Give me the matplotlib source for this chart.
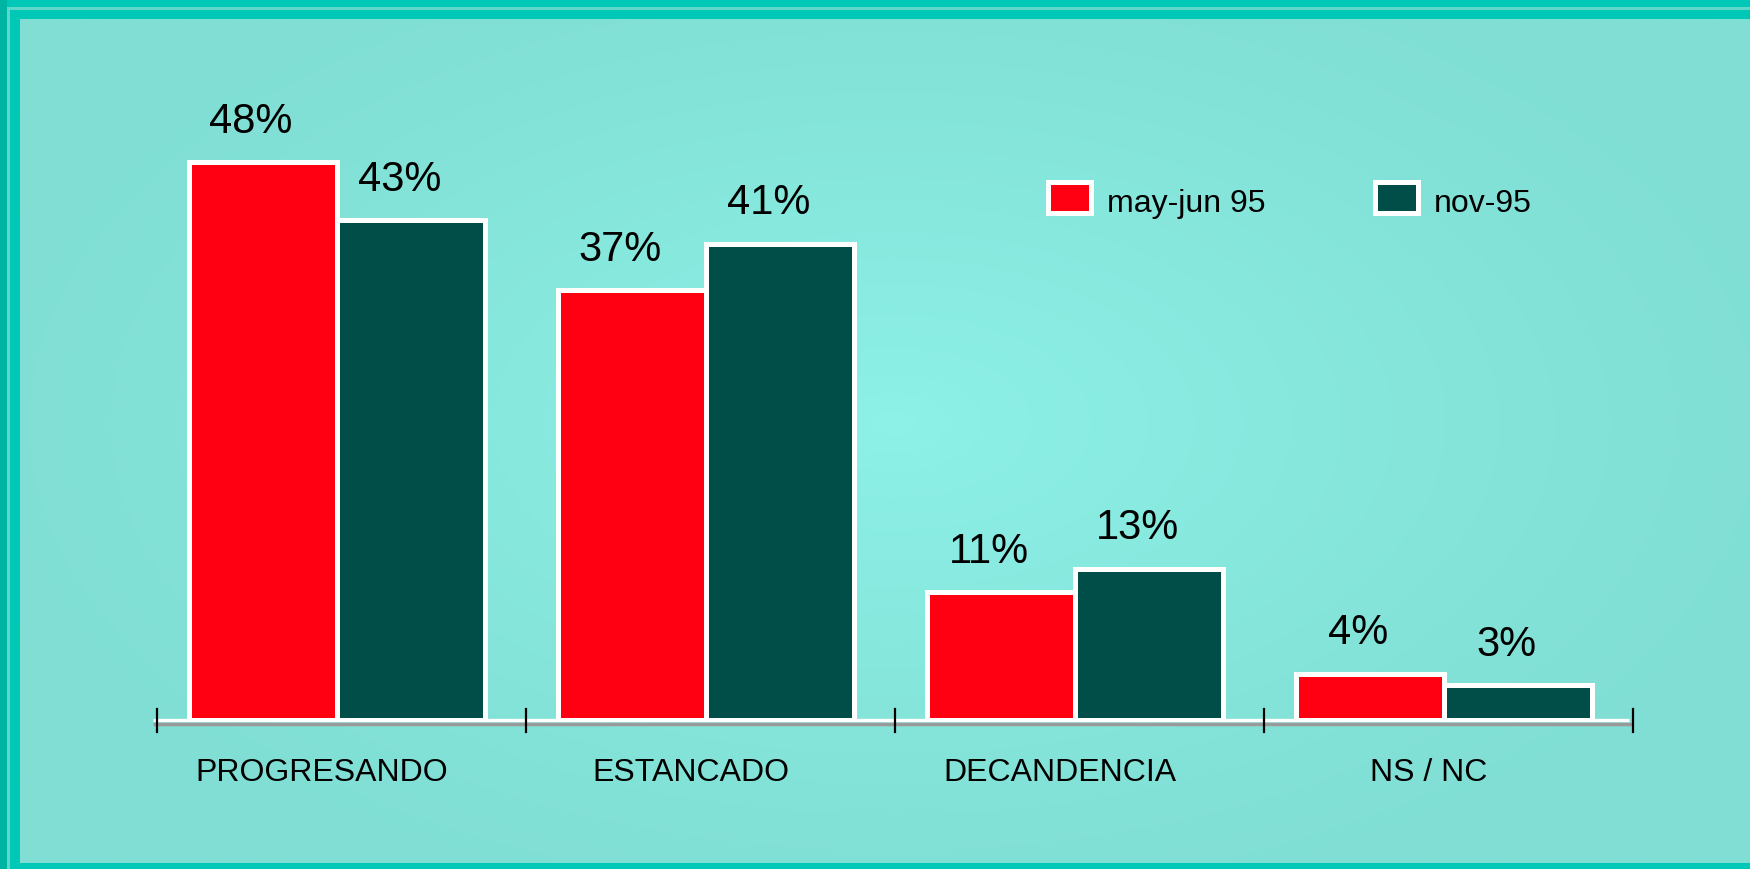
import numpy as np
import matplotlib
matplotlib.use("Agg")
import matplotlib.pyplot as plt
import matplotlib.transforms as mtransforms
from matplotlib.patches import Rectangle

plt.rcParams['font.family'] = ['Liberation Sans', 'DejaVu Sans']

# data
categories = ['PROGRESANDO', 'ESTANCADO', 'DECANDENCIA', 'NS / NC']
series_names = ['may-jun 95', 'nov-95']
may_jun_95 = [48, 37, 11, 4]
nov_95 = [43, 41, 13, 3]

RED = '#FF0012'
GREEN = '#014E49'
W, H = 1750, 870


def fx(px):
    return px / W


def fy(py):
    return 1 - py / H


fig = plt.figure(figsize=(17.5, 8.7), dpi=100)
fig.patch.set_facecolor('#00C8B6')

# frame stripes
fig.add_artist(Rectangle((0, 0), fx(7), 1, transform=fig.transFigure,
                         facecolor='#00B4A4', edgecolor='none'))
fig.add_artist(Rectangle((fx(7), 0), fx(2.5), fy(8), transform=fig.transFigure,
                         facecolor='#5ED8C8', edgecolor='none'))
fig.add_artist(Rectangle((fx(7), fy(10.5)), 1, 2.5 / H, transform=fig.transFigure,
                         facecolor='#5ED8C8', edgecolor='none'))

# panel background with radial glow
bg = fig.add_axes([fx(20), 6 / H, fx(W - 20), (864 - 20) / H])
bg.set_axis_off()
xx, yy = np.meshgrid(np.linspace(20, W, 400), np.linspace(20, 864, 200))
r = np.sqrt(((xx - 893) / 950) ** 2 + ((yy - 424) / 520) ** 2)
r = np.clip(r, 0, 1) ** 0.8
c0 = np.array([142, 242, 232]) / 255
c1 = np.array([128, 222, 212]) / 255
img = c0[None, None, :] + (c1 - c0)[None, None, :] * r[:, :, None]
bg.imshow(img, aspect='auto', extent=[0, 1, 0, 1], interpolation='bilinear')
bg.set_xlim(0, 1)
bg.set_ylim(0, 1)

# main axes
ax = fig.add_axes([fx(152.5), fy(721), (1628.5 - 152.5) / W, 697 / H])
ax.patch.set_alpha(0)
ax.set_xlim(-0.5, len(categories) - 0.5)
ax.set_ylim(0, 60)
ax.set_axis_off()

x = np.arange(len(categories))
bw = 0.4
ax.bar(x - bw / 2, may_jun_95, bw, color=RED, edgecolor='white', linewidth=3.6, zorder=3)
ax.bar(x + bw / 2, nov_95, bw, color=GREEN, edgecolor='white', linewidth=3.6, zorder=3)

for xi, v in zip(x - bw / 2, may_jun_95):
    ax.annotate(f'{v}%', (xi, v), xytext=(-9, 22), textcoords='offset points',
                ha='center', va='baseline', fontsize=30)
for xi, v in zip(x + bw / 2, nov_95):
    ax.annotate(f'{v}%', (xi, v), xytext=(-8, 22), textcoords='offset points',
                ha='center', va='baseline', fontsize=30)

for xi, name in zip(x, categories):
    ax.annotate(name, (xi, 0), xytext=(-11, -43), textcoords='offset points',
                ha='center', va='baseline', fontsize=23)

# baseline: grey shadow + white line
shadow = mtransforms.offset_copy(ax.transData, fig=fig, x=0, y=-4, units='dots')
ax.plot([-0.5, 3.5 + 0.012], [0, 0], color='#9A9A9A', lw=2.5, transform=shadow,
        clip_on=False, zorder=1, solid_capstyle='butt')
ax.plot([-0.5, 3.5], [0, 0], color='white', lw=2.4, clip_on=False, zorder=2,
        solid_capstyle='butt')

# tick marks between categories
tick_x = np.arange(len(categories) + 1) - 0.5 + 0.011
tick_tr = mtransforms.blended_transform_factory(ax.transData, fig.transFigure)
for tx in tick_x:
    ax.plot([tx, tx], [fy(710), fy(733)], color='black', lw=1.6,
            transform=tick_tr, clip_on=False, zorder=4)

# legend
legend_x = [1045, 1372]
for lx, name, col in zip(legend_x, series_names, [RED, GREEN]):
    fig.add_artist(Rectangle((fx(lx + 2.5), fy(213.5)), fx(43), 31 / H,
                             transform=fig.transFigure, facecolor=col,
                             edgecolor='white', linewidth=3.6))
    fig.text(fx(lx + 62), fy(211.7), name, fontsize=23, ha='left', va='baseline')

fig.savefig('out.png', dpi=100, facecolor=fig.get_facecolor())
